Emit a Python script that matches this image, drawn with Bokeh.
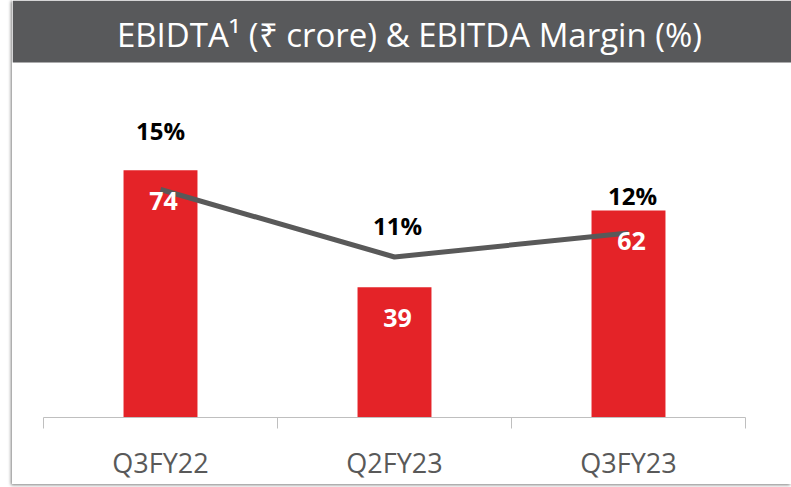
from bokeh.plotting import figure
from bokeh.models import Range1d, LinearAxis, FixedTicker, BoxAnnotation, Label, ColumnDataSource
from bokeh.core.properties import value
from bokeh.embed import file_html
from bokeh.resources import INLINE

# ---- data ----
categories = ["Q3FY22", "Q2FY23", "Q3FY23"]
ebitda = [74, 39, 62]                 # ₹ crore
margin = [15.2, 10.7, 12.3]           # EBITDA margin %
margin_labels = ["15%", "11%", "12%"]
title_text = "EBIDTA\u00b9 (\u20b9 crore) & EBITDA Margin (%)"

# ---- styles ----
RED = "#E42328"
DARK = "#58595B"
LINE = "#595959"
AXIS = "#BFBFBF"
FONT = "Open Sans"

xs = list(range(len(categories)))
boundaries = [i - 0.5 for i in range(len(categories) + 1)]

p = figure(width=779, height=484,
           x_range=Range1d(-0.6325, 2.6966), y_range=Range1d(0, 124.85),
           x_axis_location=None, y_axis_location=None,
           output_backend="svg", toolbar_location=None,
           min_border_left=0, min_border_right=0, min_border_top=0, min_border_bottom=67)
p.margin = (0, 0, 0, 12)
p.extra_y_ranges = {"m": Range1d(0, 27.8)}
p.grid.visible = False
p.outline_line_color = None
p.background_fill_color = "white"
p.border_fill_color = "white"
p.styles = {"box-shadow": "-1px 1px 3px rgba(0,0,0,0.5)"}

# title bar
p.add_layout(BoxAnnotation(bottom=106.3, fill_color=DARK, fill_alpha=1.0, line_color=None))
p.add_layout(Label(x=1.064, y=114.7, text=title_text, text_color="white",
                   text_font=FONT, text_font_size="33px",
                   text_align="center", text_baseline="middle"))

src = ColumnDataSource(dict(
    x=xs, ebitda=ebitda, margin=margin,
    elabel=[str(v) for v in ebitda], mlabel=margin_labels,
    mdy=[-59, -32, -38], mdx=[0, 3, 4],
))

p.vbar(x="x", top="ebitda", width=0.316, source=src, fill_color=RED, line_color=None)
p.line(x="x", y="margin", source=src, y_range_name="m", line_color=LINE, line_width=5)

p.text(x="x", y="ebitda", text="elabel", source=src, text_color="white",
       text_font=value(FONT), text_font_style="bold", text_font_size="25px",
       text_align="center", text_baseline="middle", y_offset=31, x_offset=3)
p.text(x="x", y="margin", text="mlabel", source=src, y_range_name="m",
       text_color="black", text_font=value(FONT), text_font_style="bold",
       text_font_size="24px", text_align="center", text_baseline="middle",
       y_offset="mdy", x_offset="mdx")

ax = LinearAxis(ticker=FixedTicker(ticks=xs, minor_ticks=boundaries),
                major_label_overrides={i: c for i, c in zip(xs, categories)},
                bounds=(boundaries[0], boundaries[-1]))
ax.axis_line_color = AXIS
ax.axis_line_width = 1
ax.major_tick_line_color = None
ax.major_tick_out = 0
ax.major_tick_in = 0
ax.minor_tick_line_color = AXIS
ax.minor_tick_out = 11
ax.minor_tick_in = 0
ax.major_label_text_font = FONT
ax.major_label_text_font_size = "27px"
ax.major_label_text_color = LINE
ax.major_label_standoff = 15
p.add_layout(ax, "below")

open("out.html", "w").write(file_html(p, INLINE))
